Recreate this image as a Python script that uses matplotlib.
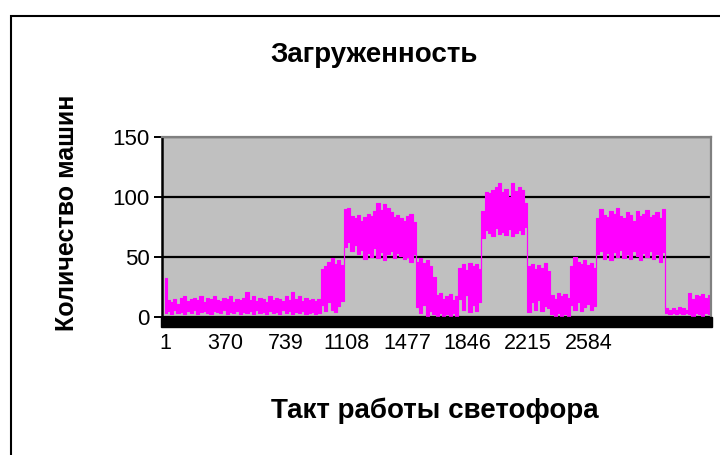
import numpy as np
import matplotlib
matplotlib.use("Agg")
import matplotlib.pyplot as plt
from matplotlib.patches import Rectangle

plt.rcParams['font.family'] = ['Liberation Sans', 'DejaVu Sans']

# envelope of the noisy load curve, read every 20 takts (upper / lower edge)
hi1 = [32, 14, 12, 15, 11, 16, 17, 13, 15, 16, 14, 17, 12, 16, 15, 17, 14, 13, 16, 15,
       17, 12, 15, 14, 16, 21, 14, 17, 13, 16, 15, 12, 17, 14, 16, 15, 13, 17, 14, 21,
       15, 17, 13, 16, 14, 15, 13, 15]
lo1 = [3, 5, 2, 6, 3, 4, 2, 5, 3, 6, 2, 4, 5, 3, 2, 5, 4, 3, 6, 2,
       4, 3, 5, 2, 4, 3, 5, 2, 6, 3, 4, 2, 5, 3, 4, 2, 6, 3, 5, 2,
       4, 3, 5, 2, 3, 4, 2, 3]
hi2 = [40, 42, 46, 49, 44, 47, 43]
lo2 = [10, 5, 12, 6, 4, 9, 13]
hi3 = [90, 91, 84, 82, 85, 80, 83, 86, 84, 88, 95, 89, 94, 91, 87, 83, 85, 82, 80, 84, 86, 79]
lo3 = [58, 62, 55, 60, 52, 56, 48, 53, 50, 57, 49, 54, 47, 52, 55, 49, 53, 51, 48, 50, 46, 52]
hi4 = [46, 49, 45, 47, 42, 33]
lo4 = [8, 3, 10, 1, 5, 2]
hi5 = [18, 20, 15, 17, 19, 14, 17]
lo5 = [1, 3, 0, 2, 1, 3, 1]
hi6 = [41, 44, 39, 45, 42, 44, 40]
lo6 = [15, 6, 18, 4, 10, 5, 12]
hi7 = [88, 104, 103, 106, 108, 112, 104, 107, 100, 112, 105, 108, 106, 95]
lo7 = [66, 72, 70, 67, 74, 69, 71, 68, 73, 67, 70, 72, 69, 75]
hi8 = [42, 44, 40, 43, 41, 45, 38]
lo8 = [4, 12, 6, 14, 5, 9, 7]
hi9 = [18, 15, 20, 17, 19, 16]
lo9 = [2, 0, 3, 1, 2, 0]
hi10 = [42, 50, 46, 44, 47, 43, 45, 41]
lo10 = [10, 6, 12, 5, 8, 11, 6, 9]
hi11 = [82, 90, 85, 83, 88, 86, 91, 84, 82, 87, 85, 80, 88, 84, 86, 89, 83, 85, 87, 82, 90]
lo11 = [52, 55, 48, 53, 47, 54, 50, 56, 49, 52, 48, 55, 51, 47, 53, 50, 55, 48, 52, 46, 54]
hi12 = [7, 6, 7, 6, 8, 7, 6]
lo12 = [3, 2, 3, 2, 3, 2, 3]
hi13 = [20, 15, 18, 17, 19, 16, 18]
lo13 = [2, 1, 3, 2, 1, 3, 2]

upper = hi1 + hi2 + hi3 + hi4 + hi5 + hi6 + hi7 + hi8 + hi9 + hi10 + hi11 + hi12 + hi13
lower = lo1 + lo2 + lo3 + lo4 + lo5 + lo6 + lo7 + lo8 + lo9 + lo10 + lo11 + lo12 + lo13
takt = 1 + 20 * np.arange(len(upper))

xticks = [1, 370, 739, 1108, 1477, 1846, 2215, 2584]
yticks = [0, 50, 100, 150]

fig = plt.figure(figsize=(7.2, 4.55), dpi=100)
ax = fig.add_axes([162 / 720, 1 - 316.7 / 455, 549 / 720, 179.7 / 455])
ax.set_facecolor('#C0C0C0')

ax.fill_between(takt, lower, upper, step='mid', color='#FF00FF', lw=0.8, edgecolor='#FF00FF')

ax.set_xlim(-17, 3331)
ax.set_ylim(0, 150)
ax.set_yticks(yticks)
ax.set_xticks(xticks)
ax.yaxis.grid(True, color='black', lw=1.6)
ax.set_axisbelow(True)

for s in ['top', 'right']:
    ax.spines[s].set_color('#808080')
    ax.spines[s].set_linewidth(1.6)
ax.spines['left'].set_color('black')
ax.spines['left'].set_linewidth(1.8)
ax.spines['bottom'].set_visible(False)

ax.tick_params(axis='y', direction='out', length=6, width=1.4, labelsize=16, pad=3)
ax.tick_params(axis='x', length=0, labelsize=15.5, pad=12)

# dense category tick marks form a black band under the plot area
ax.add_patch(Rectangle((-0.002, -10 / 179.7), 1.004, 10 / 179.7, transform=ax.transAxes,
                       color='black', clip_on=False, zorder=3))

fig.text(374 / 720, 1 - 55 / 455, 'Загруженность', ha='center', va='center',
         fontsize=20, fontweight='bold')
fig.text(435 / 720, 1 - 411 / 455, 'Такт работы светофора', ha='center', va='center',
         fontsize=20, fontweight='bold')
fig.text(67 / 720, 1 - 213 / 455, 'Количество машин', ha='center', va='center',
         rotation=90, fontsize=18, fontweight='bold')

# chart border
fig.patches.append(Rectangle((11 / 720, -0.1), 1.2, 1.1 - 15.5 / 455, transform=fig.transFigure,
                             fill=False, edgecolor='black', lw=1.5))

fig.savefig('out.png', dpi=100)
